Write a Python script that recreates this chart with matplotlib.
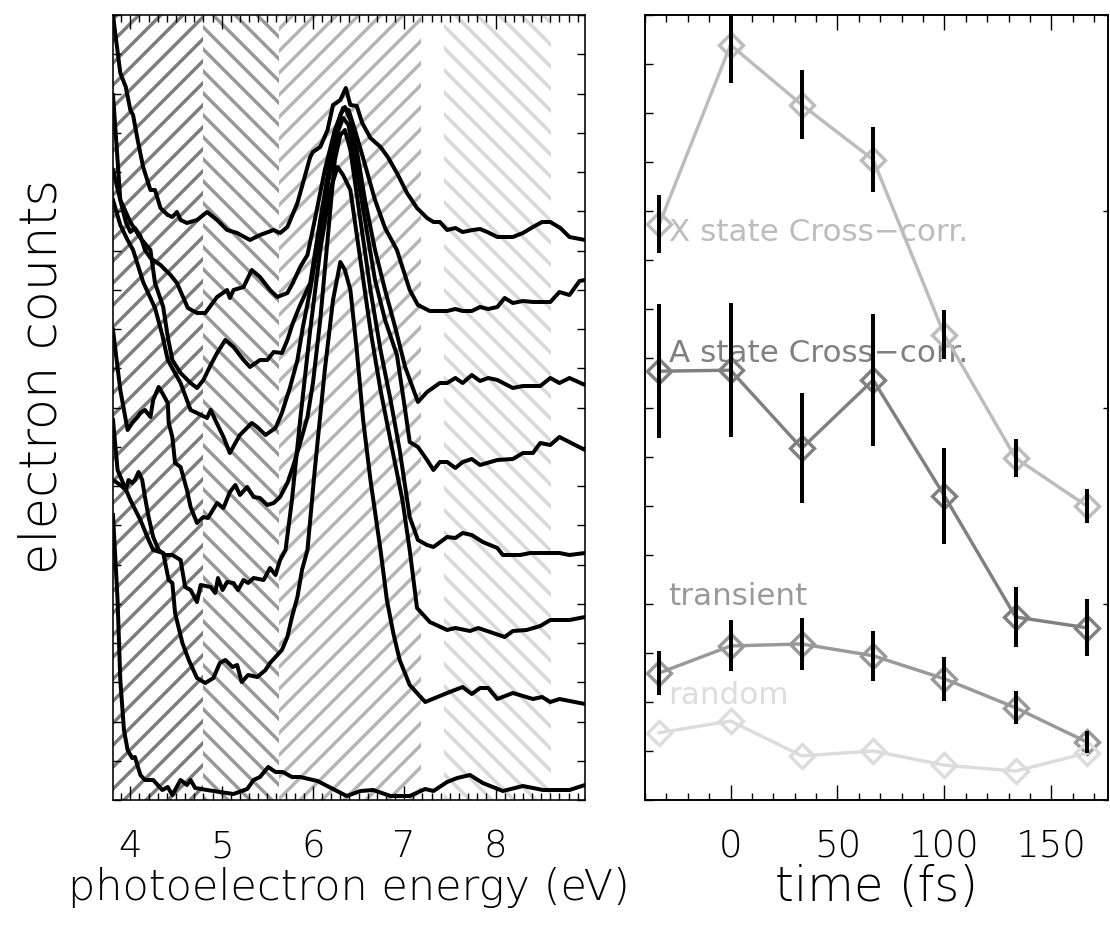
import matplotlib
matplotlib.use('Agg')
import matplotlib.pyplot as plt
from matplotlib.ticker import MultipleLocator

DPI = 132                     # chosen so that the '//' hatch spacing is ~11 px


def pt(px):
    # pixel size -> points at the save dpi
    return px * 72.0 / DPI


plt.rcParams['font.family'] = ['DejaVu Sans']
plt.rcParams['font.weight'] = 'light'
plt.rcParams['axes.labelweight'] = 'light'
plt.rcParams['hatch.linewidth'] = pt(3.4)

# ---------------- left panel : photoelectron spectra ----------------
e1 = [3.81, 3.84, 3.89, 3.95, 4.00, 4.03, 4.08, 4.14, 4.22, 4.27, 4.33, 4.41, 4.46, 4.51, 4.55,
      4.62, 4.73, 4.84, 4.95, 5.06, 5.17, 5.31, 5.42, 5.57, 5.64, 5.72, 5.83, 5.97, 6.00, 6.08,
      6.16, 6.22, 6.30, 6.36, 6.41, 6.48, 6.54, 6.63, 6.74, 6.82, 6.92, 7.03, 7.14, 7.25, 7.32,
      7.39, 7.47, 7.56, 7.64, 7.75, 7.83, 7.91, 8.02, 8.19, 8.30, 8.41, 8.51, 8.60, 8.71, 8.81, 8.98]
c1 = [785, 763, 727, 713, 690, 685, 660, 633, 610, 610, 592, 585, 583, 588, 580,
      577, 580, 588, 580, 570, 567, 560, 565, 570, 567, 573, 597, 643, 648, 653,
      670, 695, 700, 712, 695, 694, 677, 662, 653, 643, 627, 607, 592, 582, 578,
      578, 570, 572, 568, 570, 571, 568, 563, 563, 567, 573, 578, 578, 572, 563, 560]

e2 = [3.81, 3.86, 3.89, 3.95, 4.00, 4.05, 4.11, 4.16, 4.22, 4.33, 4.44, 4.51, 4.63, 4.73, 4.82,
      4.95, 5.06, 5.09, 5.13, 5.24, 5.33, 5.42, 5.53, 5.61, 5.72, 5.78, 5.86, 5.94, 6.02, 6.13,
      6.24, 6.33, 6.39, 6.46, 6.54, 6.68, 6.79, 6.92, 7.06, 7.15, 7.28, 7.47, 7.56, 7.64, 7.74,
      7.83, 7.92, 8.02, 8.10, 8.19, 8.30, 8.41, 8.60, 8.70, 8.81, 8.92, 8.98]
c2 = [705, 640, 600, 578, 568, 572, 564, 550, 542, 535, 525, 517, 492, 487, 487,
      503, 510, 502, 510, 513, 530, 523, 510, 503, 507, 517, 533, 545, 580, 630,
      670, 692, 690, 670, 645, 600, 572, 550, 510, 495, 489, 489, 491, 489, 489,
      493, 491, 493, 502, 497, 499, 498, 498, 508, 505, 519, 520]

e3 = [3.81, 3.89, 4.00, 4.11, 4.22, 4.27, 4.36, 4.41, 4.46, 4.55, 4.66, 4.73, 4.80, 4.88, 4.95,
      5.04, 5.13, 5.24, 5.31, 5.42, 5.50, 5.57, 5.66, 5.72, 5.78, 5.86, 5.97, 6.08, 6.19, 6.30,
      6.35, 6.41, 6.48, 6.57, 6.68, 6.79, 6.90, 7.01, 7.15, 7.25, 7.39, 7.47, 7.56, 7.64, 7.74,
      7.83, 7.92, 8.02, 8.19, 8.30, 8.49, 8.60, 8.70, 8.81, 8.98]
c3 = [630, 600, 578, 562, 550, 517, 493, 463, 440, 427, 417, 412, 420, 435, 447,
      460, 453, 440, 433, 440, 440, 448, 447, 460, 477, 495, 517, 580, 640, 685,
      693, 680, 650, 600, 550, 510, 473, 433, 398, 408, 417, 417, 422, 417, 425,
      419, 422, 420, 412, 414, 414, 422, 417, 422, 415]

e4 = [3.81, 3.89, 3.97, 4.03, 4.14, 4.27, 4.35, 4.41, 4.55, 4.66, 4.73, 4.84, 4.88, 4.93, 5.02,
      5.09, 5.15, 5.20, 5.33, 5.39, 5.48, 5.59, 5.66, 5.75, 5.83, 5.89, 5.97, 6.08, 6.19, 6.28,
      6.33, 6.39, 6.46, 6.57, 6.68, 6.79, 6.92, 7.01, 7.06, 7.15, 7.25, 7.32, 7.39, 7.47, 7.56,
      7.64, 7.74, 7.83, 8.02, 8.19, 8.30, 8.41, 8.49, 8.60, 8.70, 8.98]
c4 = [600, 575, 560, 550, 518, 492, 465, 440, 417, 390, 387, 382, 390, 380, 363,
      347, 357, 365, 377, 373, 365, 372, 387, 413, 440, 473, 510, 570, 630, 670,
      682, 675, 640, 580, 520, 480, 445, 390, 358, 353, 340, 330, 338, 338, 332,
      338, 341, 335, 340, 341, 347, 347, 357, 355, 363, 350]

e5 = [3.81, 3.89, 3.97, 4.02, 4.08, 4.11, 4.16, 4.22, 4.25, 4.31, 4.35, 4.41, 4.42, 4.46, 4.49,
      4.55, 4.62, 4.66, 4.73, 4.80, 4.85, 4.95, 5.02, 5.09, 5.15, 5.20, 5.28, 5.35, 5.42, 5.50,
      5.57, 5.64, 5.72, 5.78, 5.86, 5.94, 6.00, 6.08, 6.17, 6.24, 6.30, 6.35, 6.41, 6.52, 6.63,
      6.74, 6.85, 6.95, 7.06, 7.15, 7.25, 7.32, 7.47, 7.56, 7.64, 7.74, 7.86, 8.02, 8.08, 8.27,
      8.38, 8.70, 8.81, 8.98]
c5 = [470, 410, 370, 377, 383, 387, 390, 383, 400, 413, 407, 397, 377, 363, 337,
      333, 310, 293, 277, 283, 282, 297, 292, 308, 315, 305, 313, 303, 302, 295,
      297, 303, 317, 333, 357, 383, 417, 480, 570, 640, 665, 670, 650, 580, 510,
      450, 400, 350, 283, 260, 255, 253, 263, 262, 267, 265, 258, 252, 245, 245,
      247, 247, 245, 247]

e6 = [3.81, 3.89, 3.95, 3.98, 4.02, 4.05, 4.09, 4.13, 4.16, 4.20, 4.25, 4.31, 4.38, 4.46, 4.55,
      4.60, 4.66, 4.73, 4.77, 4.88, 4.93, 4.96, 5.01, 5.06, 5.13, 5.18, 5.24, 5.29, 5.35, 5.46,
      5.53, 5.59, 5.64, 5.70, 5.77, 5.86, 5.97, 6.08, 6.19, 6.27, 6.33, 6.41, 6.52, 6.63, 6.74,
      6.87, 6.98, 7.06, 7.14, 7.28, 7.47, 7.56, 7.72, 7.81, 7.94, 8.10, 8.19, 8.34, 8.49, 8.60,
      8.81, 8.98]
c6 = [320, 315, 310, 320, 317, 320, 328, 320, 303, 283, 263, 250, 245, 245, 240,
      213, 210, 198, 215, 213, 207, 222, 210, 218, 217, 210, 220, 217, 222, 220,
      232, 225, 240, 250, 300, 380, 470, 550, 610, 633, 625, 610, 540, 470, 410,
      350, 300, 250, 192, 178, 170, 172, 169, 172, 168, 163, 169, 170, 174, 180,
      180, 183]

e7 = [3.81, 3.86, 4.00, 4.11, 4.20, 4.25, 4.36, 4.42, 4.46, 4.49, 4.57, 4.64, 4.73, 4.82, 4.91,
      4.98, 5.04, 5.12, 5.17, 5.22, 5.29, 5.39, 5.48, 5.53, 5.59, 5.66, 5.72, 5.77, 5.83, 5.88,
      5.94, 6.02, 6.13, 6.22, 6.30, 6.35, 6.41, 6.48, 6.55, 6.63, 6.74, 6.81, 6.88, 6.95, 7.06,
      7.23, 7.47, 7.64, 7.74, 7.83, 7.92, 8.02, 8.19, 8.41, 8.51, 8.60, 8.70, 8.98]
c7 = [380, 330, 300, 280, 260, 250, 247, 220, 217, 187, 157, 140, 122, 117, 122,
      137, 140, 133, 135, 118, 125, 123, 130, 137, 143, 150, 163, 183, 203, 230,
      250, 330, 430, 500, 538, 530, 510, 450, 380, 320, 250, 200, 167, 140, 115,
      98, 107, 113, 106, 112, 112, 101, 107, 101, 103, 98, 101, 96]

e8 = [3.81, 3.86, 3.89, 3.93, 3.97, 4.02, 4.05, 4.11, 4.16, 4.25, 4.35, 4.41, 4.46, 4.55, 4.62,
      4.66, 4.71, 4.84, 4.98, 5.13, 5.28, 5.35, 5.42, 5.51, 5.59, 5.67, 5.77, 5.86, 6.05, 6.22,
      6.37, 6.52, 6.66, 6.85, 7.06, 7.23, 7.32, 7.47, 7.58, 7.72, 7.86, 8.08, 8.30, 8.52, 8.81, 8.98]
c8 = [285, 200, 120, 70, 50, 42, 43, 25, 20, 20, 10, 13, 5, 20, 15,
      20, 12, 10, 8, 6, 11, 20, 23, 33, 28, 28, 23, 23, 19, 11,
      4, 9, 10, 4, 4, 11, 9, 18, 22, 25, 17, 9, 14, 10, 10, 15]

spectra = [(e1, c1), (e2, c2), (e3, c3), (e4, c4), (e5, c5), (e6, c6), (e7, c7), (e8, c8)]

# energy windows marked by hatching (eV)
win_lo = [3.81, 4.80, 5.63, 7.44]
win_hi = [4.80, 5.63, 7.18, 8.61]
win_hatch = ['//', '\\\\', '//', '\\\\']
win_grey = ['#7c7c7c', '#989898', '#b4b4b4', '#d8d8d8']

# ---------------- right panel : yields vs delay ----------------
t_fs = [-33.3, 0.0, 33.3, 66.7, 100.0, 133.3, 166.7]
x_state = [11.74, 15.39, 14.17, 13.05, 9.48, 6.97, 5.99]
x_err = [0.56, 0.73, 0.66, 0.62, 0.46, 0.35, 0.30]
a_state = [8.74, 8.76, 7.17, 8.56, 6.20, 3.73, 3.51]
a_err = [1.32, 1.33, 1.08, 1.31, 0.94, 0.57, 0.54]
transient = [2.59, 3.14, 3.18, 2.94, 2.47, 1.88, 1.18]
tr_err = [0.41, 0.48, 0.49, 0.47, 0.41, 0.30, 0.19]
random_ = [1.37, 1.61, 0.90, 1.00, 0.71, 0.59, 0.96]

W, H = 1110, 929
fig = plt.figure(figsize=(W / DPI, H / DPI), dpi=DPI)
axL = fig.add_axes([113 / W, 1 - 800 / H, 472 / W, 785 / H])
axR = fig.add_axes([645 / W, 1 - 800 / H, 463 / W, 785 / H])

TICK_FS = pt(37)

# left
for lo, hi, h, g in zip(win_lo, win_hi, win_hatch, win_grey):
    axL.axvspan(lo, hi, facecolor='none', edgecolor=g, hatch=h, lw=0, zorder=0)
for e, c in spectra:
    axL.plot(e, c, color='black', lw=pt(4), zorder=3)
axL.set_xlim(3.81, 8.98)
axL.set_ylim(0, 785)
axL.xaxis.set_major_locator(MultipleLocator(1))
axL.xaxis.set_minor_locator(MultipleLocator(0.1))
axL.yaxis.set_major_locator(MultipleLocator(39.25))
axL.tick_params(axis='x', which='major', direction='in', top=True, bottom=True,
                length=pt(14), width=pt(1.4), labelsize=TICK_FS, pad=pt(28))
axL.tick_params(axis='x', which='minor', direction='in', top=True, bottom=True,
                length=pt(7), width=pt(1.4))
axL.tick_params(axis='y', which='major', direction='in', left=True, right=True,
                length=pt(8), width=pt(1.4), labelleft=False)
axL.set_xlabel('photoelectron energy (eV)', fontsize=pt(43))
axL.xaxis.set_label_coords(0.5, -0.112)
axL.xaxis.label.set_va('center')
fig.text(42 / W, 1 - 376 / H, 'electron counts', rotation=90, fontsize=pt(51),
         ha='center', va='center')

# right
series = [
    (x_state, x_err, '#bcbcbc', 'X state Cross\u2212corr.', 11.56),
    (a_state, a_err, '#808080', 'A state Cross\u2212corr.', 9.11),
    (transient, tr_err, '#999999', 'transient', 4.14),
    (random_, None, '#dcdcdc', 'random', 2.14),
]
for vals, err, col, lab, ly in series:
    axR.plot(t_fs, vals, color=col, lw=pt(3.4), marker='D', ms=pt(17), mfc='none',
             mec=col, mew=pt(3.4), zorder=2, clip_on=False)
    if err is not None:
        axR.errorbar(t_fs, vals, yerr=err, fmt='none', ecolor='black', elinewidth=pt(4),
                     capsize=pt(2), capthick=pt(4), zorder=4)
    axR.text(-29, ly, lab, color=col, fontsize=pt(31), fontweight='normal',
             ha='left', va='center', zorder=1)

axR.set_xlim(-40, 176.5)
axR.set_ylim(0, 16)
axR.xaxis.set_major_locator(MultipleLocator(50))
axR.xaxis.set_minor_locator(MultipleLocator(10))
axR.yaxis.set_major_locator(MultipleLocator(1))
axR.tick_params(axis='x', which='major', direction='in', top=True, bottom=True,
                length=pt(15), width=pt(1.4), labelsize=TICK_FS, pad=pt(28))
axR.tick_params(axis='x', which='minor', direction='in', top=True, bottom=True,
                length=pt(7), width=pt(1.4))
axR.tick_params(axis='y', which='major', direction='in', left=True, right=False,
                length=pt(8), width=pt(1.4), labelleft=False)
axR2 = axR.twinx()
axR2.set_ylim(0, 16)
axR2.yaxis.set_major_locator(MultipleLocator(4))
axR2.tick_params(axis='y', direction='in', length=pt(5), width=pt(1.4), labelright=False)
axR.set_xlabel('time (fs)', fontsize=pt(48))
axR.xaxis.set_label_coords(0.5, -0.112)
axR.xaxis.label.set_va('center')

for ax in (axL, axR, axR2):
    for s in ax.spines.values():
        s.set_linewidth(pt(1.6))

fig.savefig('out.png', dpi=DPI)
